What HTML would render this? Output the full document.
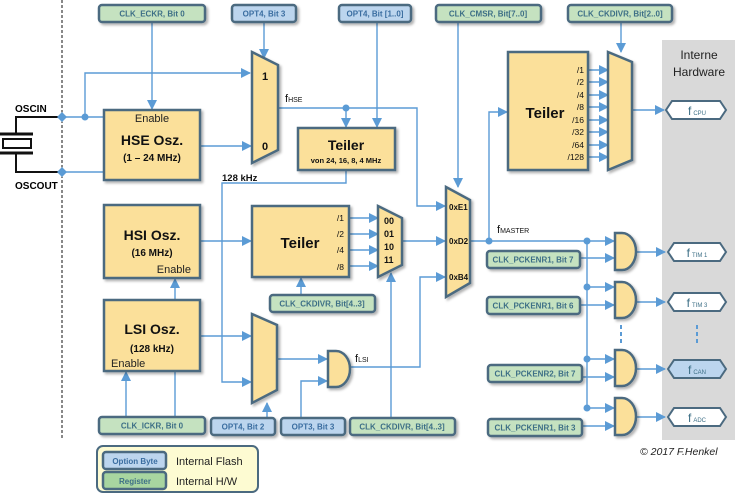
<!DOCTYPE html>
<html><head><meta charset="utf-8"><style>
html,body{margin:0;padding:0;background:#fff;}
svg{display:block;font-family:"Liberation Sans",sans-serif;}
.b{fill:#fbe09a;stroke:#4b6a80;stroke-width:2.5;}
.g{fill:#c5e2c0;stroke:#4b6a80;stroke-width:2.5;}
.u{fill:#bcd5ee;stroke:#4b6a80;stroke-width:2.5;}
.l{stroke:#5b9bd5;stroke-width:1.4;fill:none;}
.rt{font-size:8px;font-weight:bold;fill:#3d6f86;text-anchor:middle;}
.ut{font-size:8px;font-weight:bold;fill:#3a6da0;text-anchor:middle;}
.bt{font-weight:bold;fill:#111;text-anchor:middle;}
.sm{font-size:8.5px;fill:#111;}
.hx{fill:#fff;stroke:#4b6a80;stroke-width:2;}
</style></head><body>
<svg width="744" height="495" viewBox="0 0 744 495">
<defs>
<marker id="a" markerWidth="10" markerHeight="10" refX="9" refY="5" orient="auto" markerUnits="userSpaceOnUse"><path d="M0,0 L10,5 L0,10 z" fill="#5b9bd5"/></marker>
<filter id="s" x="-10%" y="-10%" width="130%" height="130%"><feDropShadow dx="2" dy="2" stdDeviation="1.2" flood-color="#000" flood-opacity="0.3"/></filter>
</defs>
<rect x="662" y="40" width="73" height="400" fill="#d9d9d9"/>
<text x="699" y="59" font-size="12" text-anchor="middle" fill="#222">Interne</text>
<text x="699" y="76" font-size="12" text-anchor="middle" fill="#222">Hardware</text>
<line x1="62" y1="0" x2="62" y2="440" stroke="#111" stroke-width="1" stroke-dasharray="3,2"/>
<g stroke="#111" stroke-width="2" fill="none">
<path d="M62,117 H16 V134"/><path d="M62,172 H16 V153"/>
<line x1="0" y1="134" x2="33" y2="134" stroke-width="3"/><line x1="0" y1="153" x2="33" y2="153" stroke-width="3"/>
<rect x="3" y="139" width="28" height="9"/></g>
<text x="15" y="112" font-size="10" font-weight="bold">OSCIN</text>
<text x="15" y="189" font-size="10" font-weight="bold">OSCOUT</text>
<path d="M62,112 L67,117 L62,122 L57,117z M62,167 L67,172 L62,177 L57,172z" fill="#5b9bd5"/>
<g class="l">
<path d="M62,117 H104"/><path d="M62,172 H104"/>
<path d="M85,117 V73 H250" marker-end="url(#a)"/>
<path d="M152,22 V109" marker-end="url(#a)"/>
<path d="M264,22 V58" marker-end="url(#a)"/>
<path d="M200,146 H251" marker-end="url(#a)"/>
<path d="M278,108 H417 V206 H445" marker-end="url(#a)"/>
<path d="M346,108 V127" marker-end="url(#a)"/>
<path d="M377,22 V127" marker-end="url(#a)"/>
<path d="M346,170 V183 H222 V382 H251" marker-end="url(#a)"/>
<path d="M200,241 H251" marker-end="url(#a)"/>
<path d="M349,218 H378" marker-end="url(#a)"/><path d="M349,234 H378" marker-end="url(#a)"/>
<path d="M349,250 H378" marker-end="url(#a)"/><path d="M349,266 H378" marker-end="url(#a)"/>
<path d="M402,241 H445" marker-end="url(#a)"/>
<path d="M301,295 V278" marker-end="url(#a)"/>
<path d="M458,22 V187" marker-end="url(#a)"/>
<path d="M391,418 V273" marker-end="url(#a)"/>
<path d="M350,367 H420 V277 H445" marker-end="url(#a)"/>
<path d="M175,300 V279" marker-end="url(#a)"/>
<path d="M126,417 V372" marker-end="url(#a)"/>
<path d="M175,371 V417"/>
<path d="M200,336 H251" marker-end="url(#a)"/>
<path d="M277,359 H327" marker-end="url(#a)"/>
<path d="M301,418 V381 H327" marker-end="url(#a)"/>
<path d="M267,418 V403" marker-end="url(#a)"/>
<path d="M470,241 H614" marker-end="url(#a)"/>
<path d="M489,241 V112 H507" marker-end="url(#a)"/>
<path d="M621,22 V52" marker-end="url(#a)"/>
<path d="M588,70 H608" marker-end="url(#a)"/><path d="M588,82 H608" marker-end="url(#a)"/>
<path d="M588,95 H608" marker-end="url(#a)"/><path d="M588,107 H608" marker-end="url(#a)"/>
<path d="M588,120 H608" marker-end="url(#a)"/><path d="M588,132 H608" marker-end="url(#a)"/>
<path d="M588,145 H608" marker-end="url(#a)"/><path d="M588,157 H608" marker-end="url(#a)"/>
<path d="M632,110 H664" marker-end="url(#a)"/>
<path d="M587,241 V408"/>
<path d="M580,258 H614" marker-end="url(#a)"/>
<path d="M587,287 H614" marker-end="url(#a)"/><path d="M580,305 H614" marker-end="url(#a)"/>
<path d="M587,359 H614" marker-end="url(#a)"/><path d="M582,377 H614" marker-end="url(#a)"/>
<path d="M587,408 H614" marker-end="url(#a)"/><path d="M582,426 H614" marker-end="url(#a)"/>
<path d="M636,252 H665" marker-end="url(#a)"/><path d="M636,302 H665" marker-end="url(#a)"/>
<path d="M636,369 H665" marker-end="url(#a)"/><path d="M636,417 H665" marker-end="url(#a)"/>
</g>
<g fill="#5b9bd5"><circle cx="85" cy="117" r="3.5"/><circle cx="346" cy="108" r="3.5"/><circle cx="489" cy="241" r="3.5"/>
<circle cx="587" cy="241" r="3.5"/><circle cx="587" cy="287" r="3.5"/><circle cx="587" cy="359" r="3.5"/><circle cx="587" cy="408" r="3.5"/></g>
<g stroke="#5b9bd5" stroke-width="2" stroke-dasharray="4,3"><line x1="621" y1="325" x2="621" y2="343"/><line x1="697" y1="325" x2="697" y2="343"/></g>
<g filter="url(#s)">
<rect class="b" x="104" y="110" width="96" height="70"/>
<rect class="b" x="104" y="205" width="96" height="73"/>
<rect class="b" x="104" y="300" width="96" height="71"/>
<rect class="b" x="298" y="128" width="97" height="42"/>
<rect class="b" x="252" y="206" width="97" height="71"/>
<rect class="b" x="508" y="52" width="80" height="118"/>
<path class="b" d="M252,52 L278,65 L278,150 L252,163z"/>
<path class="b" d="M378,206 L402,218 L402,265 L378,277z"/>
<path class="b" d="M446,187 L470,200 L470,283 L446,297z"/>
<path class="b" d="M608,52 L632,62 L632,160 L608,170z"/>
<path class="b" d="M252,314 L277,325 L277,390 L252,403z"/>
<path class="b" d="M328,351 H336 A14,18 0 0 1 336,387 H328z"/>
<path class="b" d="M615,233 H622 A14,18.5 0 0 1 622,270 H615z"/>
<path class="b" d="M615,282 H622 A14,18 0 0 1 622,318 H615z"/>
<path class="b" d="M615,350 H622 A14,18 0 0 1 622,386 H615z"/>
<path class="b" d="M615,398 H622 A14,18.5 0 0 1 622,435 H615z"/>
</g>
<g filter="url(#s)">
<rect class="g" x="99" y="5" width="106" height="17" rx="3"/>
<rect class="u" x="232" y="5" width="64" height="17" rx="3"/>
<rect class="u" x="339" y="5" width="72" height="17" rx="3"/>
<rect class="g" x="436" y="5" width="105" height="17" rx="3"/>
<rect class="g" x="568" y="5" width="104" height="17" rx="3"/>
<rect class="g" x="270" y="295" width="105" height="17" rx="3"/>
<rect class="g" x="99" y="417" width="106" height="17" rx="3"/>
<rect class="u" x="211" y="418" width="64" height="17" rx="3"/>
<rect class="u" x="281" y="418" width="64" height="17" rx="3"/>
<rect class="g" x="350" y="418" width="105" height="17" rx="3"/>
<rect class="g" x="487" y="251" width="93" height="17" rx="3"/>
<rect class="g" x="487" y="297" width="93" height="17" rx="3"/>
<rect class="g" x="488" y="365" width="94" height="17" rx="3"/>
<rect class="g" x="488" y="419" width="94" height="17" rx="3"/>
</g>
<g class="rt"><text x="152" y="16.5">CLK_ECKR, Bit 0</text><text x="488" y="16.5">CLK_CMSR, Bit[7..0]</text>
<text x="620" y="16.5">CLK_CKDIVR, Bit[2..0]</text><text x="322" y="306.5">CLK_CKDIVR, Bit[4..3]</text>
<text x="152" y="428.5">CLK_ICKR, Bit 0</text><text x="402" y="429.5">CLK_CKDIVR, Bit[4..3]</text>
<text x="533" y="262.5">CLK_PCKENR1, Bit 7</text><text x="533" y="308.5">CLK_PCKENR1, Bit 6</text>
<text x="535" y="376.5">CLK_PCKENR2, Bit 7</text><text x="535" y="430.5">CLK_PCKENR1, Bit 3</text></g>
<g class="ut"><text x="264" y="16.5">OPT4, Bit 3</text><text x="375" y="16.5">OPT4, Bit [1..0]</text>
<text x="243" y="429.5">OPT4, Bit 2</text><text x="313" y="429.5">OPT3, Bit 3</text></g>
<g>
<path class="hx" d="M672,101 H720 L726,110 L720,119 H672 L666,110z"/>
<path class="hx" d="M674,243 H720 L726,252 L720,261 H674 L668,252z"/>
<path class="hx" d="M674,293 H720 L726,302 L720,311 H674 L668,302z"/>
<path class="hx" d="M674,360 H720 L726,369 L720,378 H674 L668,369z" style="fill:#bcd5ee"/>
<path class="hx" d="M674,408 H720 L726,417 L720,426 H674 L668,417z"/>
</g>
<g font-size="12" fill="#3d6f86" text-anchor="middle">
<text x="697" y="115">f<tspan font-size="6" dx="2">CPU</tspan></text>
<text x="697" y="257">f<tspan font-size="6" dx="2">TIM 1</tspan></text>
<text x="697" y="307">f<tspan font-size="6" dx="2">TIM 3</tspan></text>
<text x="697" y="374">f<tspan font-size="6" dx="2">CAN</tspan></text>
<text x="697" y="422">f<tspan font-size="6" dx="2">ADC</tspan></text></g>
<text x="152" y="122" font-size="11" text-anchor="middle" fill="#222">Enable</text>
<text x="152" y="145" font-size="14" class="bt">HSE Osz.</text>
<text x="152" y="161" font-size="10" class="bt">(1 – 24 MHz)</text>
<text x="152" y="240" font-size="14" class="bt">HSI Osz.</text>
<text x="152" y="256" font-size="10" class="bt">(16 MHz)</text>
<text x="191" y="273" font-size="11" text-anchor="end" fill="#222">Enable</text>
<text x="152" y="334" font-size="14" class="bt">LSI Osz.</text>
<text x="152" y="352" font-size="10" class="bt">(128 kHz)</text>
<text x="111" y="367" font-size="11" fill="#222">Enable</text>
<text x="346" y="150" font-size="14" class="bt">Teiler</text>
<text x="346" y="163" font-size="7.5" class="bt">von 24, 16, 8, 4 MHz</text>
<text x="300" y="248" font-size="15" class="bt">Teiler</text>
<text x="545" y="118" font-size="15" class="bt">Teiler</text>
<g class="sm" text-anchor="end"><text x="344" y="221">/1</text><text x="344" y="237">/2</text><text x="344" y="253">/4</text><text x="344" y="270">/8</text>
<text x="584" y="73">/1</text><text x="584" y="85">/2</text><text x="584" y="98">/4</text><text x="584" y="110">/8</text>
<text x="584" y="123">/16</text><text x="584" y="135">/32</text><text x="584" y="148">/64</text><text x="584" y="160">/128</text></g>
<g font-size="9" font-weight="bold" fill="#111"><text x="384" y="224">00</text><text x="384" y="237">01</text><text x="384" y="250">10</text><text x="384" y="263">11</text>
<text x="449" y="210" font-size="8">0xE1</text><text x="449" y="244" font-size="8">0xD2</text><text x="449" y="280" font-size="8">0xB4</text></g>
<text x="265" y="80" font-size="11" class="bt">1</text><text x="265" y="150" font-size="11" class="bt">0</text>
<text x="285" y="102" font-size="11" fill="#111">f<tspan font-size="7">HSE</tspan></text>
<text x="222" y="181" font-size="9.5" font-weight="bold" fill="#111">128 kHz</text>
<text x="355" y="362" font-size="11" fill="#111">f<tspan font-size="7">LSI</tspan></text>
<text x="497" y="233" font-size="11" fill="#111">f<tspan font-size="7">MASTER</tspan></text>
<text x="640" y="455" font-size="10.5" font-style="italic" fill="#222">© 2017 F.Henkel</text>
<rect x="97" y="446" width="161" height="46" rx="6" fill="#fdfbd2" stroke="#4b6a80" stroke-width="2"/>
<rect class="u" x="103" y="452" width="63" height="17" rx="3"/>
<rect class="g" x="103" y="472" width="63" height="17" rx="3" style="fill:#a8d5a0"/>
<text x="135" y="464" class="ut">Option Byte</text>
<text x="135" y="484" class="rt">Register</text>
<text x="176" y="465" font-size="11" fill="#222">Internal  Flash</text>
<text x="176" y="485" font-size="11" fill="#222">Internal  H/W</text>
</svg>
</body></html>
